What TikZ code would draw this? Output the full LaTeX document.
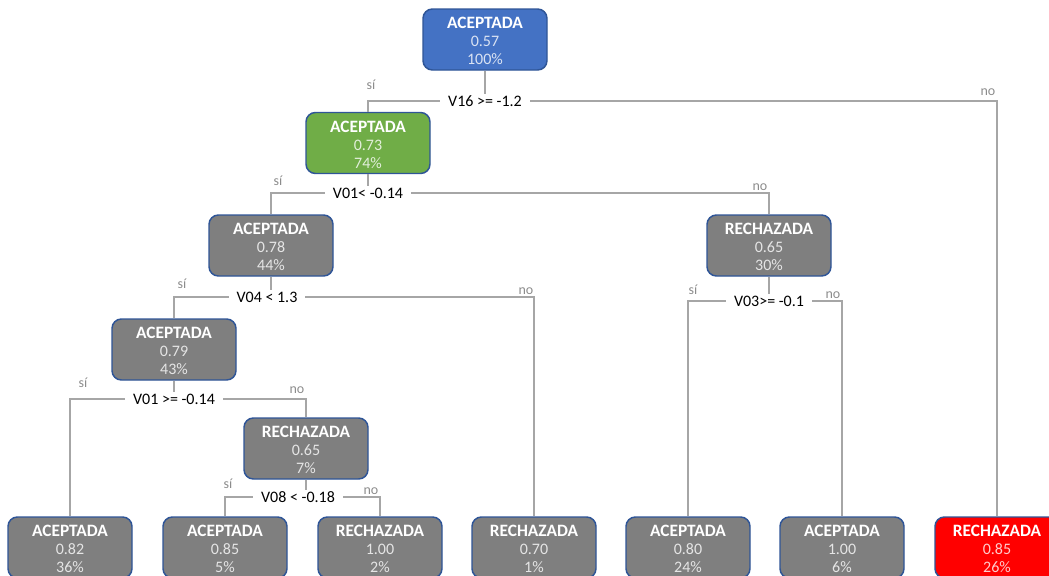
\documentclass[tikz,border=0pt]{standalone}
\usepackage{fontspec}
\setmainfont{Carlito}
\begin{document}
\begin{tikzpicture}[x=0.75pt,y=-0.75pt,
  leaf/.style={draw=nodeborder, line width=1.1pt, rounded corners=7pt, fill=#1,
    minimum width=93pt, minimum height=45.75pt, inner sep=0pt, align=center,
    text=white, font=\fontsize{12}{13.6}\selectfont,
    execute at begin node={\colorlet{numcol}{white!80!#1}}},
  leaf/.default=nodegray,
  edge/.style={draw=linegray, line width=1.5pt},
  cond/.style={fill=white, inner xsep=6pt, inner ysep=1pt, text=black,
    font=\fontsize{12}{13}\selectfont},
  yes/.style={text=labgray, font=\fontsize{10.5}{11}\selectfont, inner sep=0pt},
  nolab/.style={text=labgray, font=\fontsize{10.5}{11}\selectfont, inner sep=0pt}
]
\definecolor{nodegray}{HTML}{7F7F7F}
\definecolor{nodeborder}{HTML}{2F5597}
\definecolor{rootblue}{HTML}{4472C4}
\definecolor{leafgreen}{HTML}{70AD47}
\definecolor{leafred}{HTML}{FF0000}
\definecolor{linegray}{HTML}{A6A6A6}
\definecolor{labgray}{HTML}{8C8C8C}
% three text lines: class, probability, share; lowered a little inside the box
\newcommand{\tri}[3]{\raisebox{-2.7pt}[\height][\depth]{\begin{tabular}{@{}c@{}}{\fontsize{13}{13.6}\selectfont\textbf{#1}}\\{\color{numcol}#2}\\{\color{numcol}#3}\end{tabular}}}

\useasboundingbox (0,0) rectangle (1049,575);
\clip (0,0) rectangle (1049,575);

% tree nodes
\node[leaf=rootblue]  (root) at (485,39.5)  {\tri{ACEPTADA}{0.57}{100\%}};
\node[leaf=leafgreen] (g)    at (368,143)   {\tri{ACEPTADA}{0.73}{74\%}};
\node[leaf]           (a44)  at (271,245.5) {\tri{ACEPTADA}{0.78}{44\%}};
\node[leaf]           (r30)  at (769,245.5) {\tri{RECHAZADA}{0.65}{30\%}};
\node[leaf]           (a43)  at (174,349.5) {\tri{ACEPTADA}{0.79}{43\%}};
\node[leaf]           (r7)   at (306,448.5) {\tri{RECHAZADA}{0.65}{7\%}};
\node[leaf]           (b1)   at (70,547.5)  {\tri{ACEPTADA}{0.82}{36\%}};
\node[leaf]           (b2)   at (225,547.5) {\tri{ACEPTADA}{0.85}{5\%}};
\node[leaf]           (b3)   at (380,547.5) {\tri{RECHAZADA}{1.00}{2\%}};
\node[leaf]           (b4)   at (534,547.5) {\tri{RECHAZADA}{0.70}{1\%}};
\node[leaf]           (b5)   at (688,547.5) {\tri{ACEPTADA}{0.80}{24\%}};
\node[leaf]           (b6)   at (842,547.5) {\tri{ACEPTADA}{1.00}{6\%}};
\node[leaf=leafred]   (b7)   at (997,547.5) {\tri{RECHAZADA}{0.85}{26\%}};

% split points
\coordinate (s0) at (485,101);
\coordinate (s1) at (368,193);
\coordinate (s2) at (271,297);
\coordinate (s3) at (769,301);
\coordinate (s4) at (174,399);
\coordinate (s5) at (306,497);

% connectors
\draw[edge] (root.south) -- (s0);
\draw[edge] (g.north) |- (s0) -| (b7.north);
\draw[edge] (g.south) -- (s1);
\draw[edge] (a44.north) |- (s1) -| (r30.north);
\draw[edge] (a44.south) -- (s2);
\draw[edge] (a43.north) |- (s2) -| (b4.north);
\draw[edge] (r30.south) -- (s3);
\draw[edge] (b5.north) |- (s3) -| (b6.north);
\draw[edge] (a43.south) -- (s4);
\draw[edge] (b1.north) |- (s4) -| (r7.north);
\draw[edge] (r7.south) -- (s5);
\draw[edge] (b2.north) |- (s5) -| (b3.north);

% split conditions
\node[cond] (c0) at (s0) {V16 >= -1.2};
\node[cond] (c1) at (s1) {V01< -0.14};
\node[cond] (c2) at ([xshift=-3]s2) {V04 < 1.3};
\node[cond] (c3) at (s3) {V03>= -0.1};
\node[cond] (c4) at (s4) {V01 >= -0.14};
\node[cond] (c5) at ([xshift=-6]s5) {V08 < -0.18};

% branch labels
\node[yes] (y0) at (371,85)  {sí};
\node[yes] (y1) at (278,181) {sí};
\node[yes] (y2) at (182,284) {sí};
\node[yes] (y3) at (693,290) {sí};
\node[yes] (y4) at (83,383)  {sí};
\node[yes] (y5) at (228,484) {sí};
\node[nolab] (n0) at (988,92)  {no};
\node[nolab] (n1) at (760,187) {no};
\node[nolab] (n2) at (526,291) {no};
\node[nolab] (n3) at (833,295) {no};
\node[nolab] (n4) at (297,390) {no};
\node[nolab] (n5) at (371,491) {no};
\end{tikzpicture}
\end{document}
